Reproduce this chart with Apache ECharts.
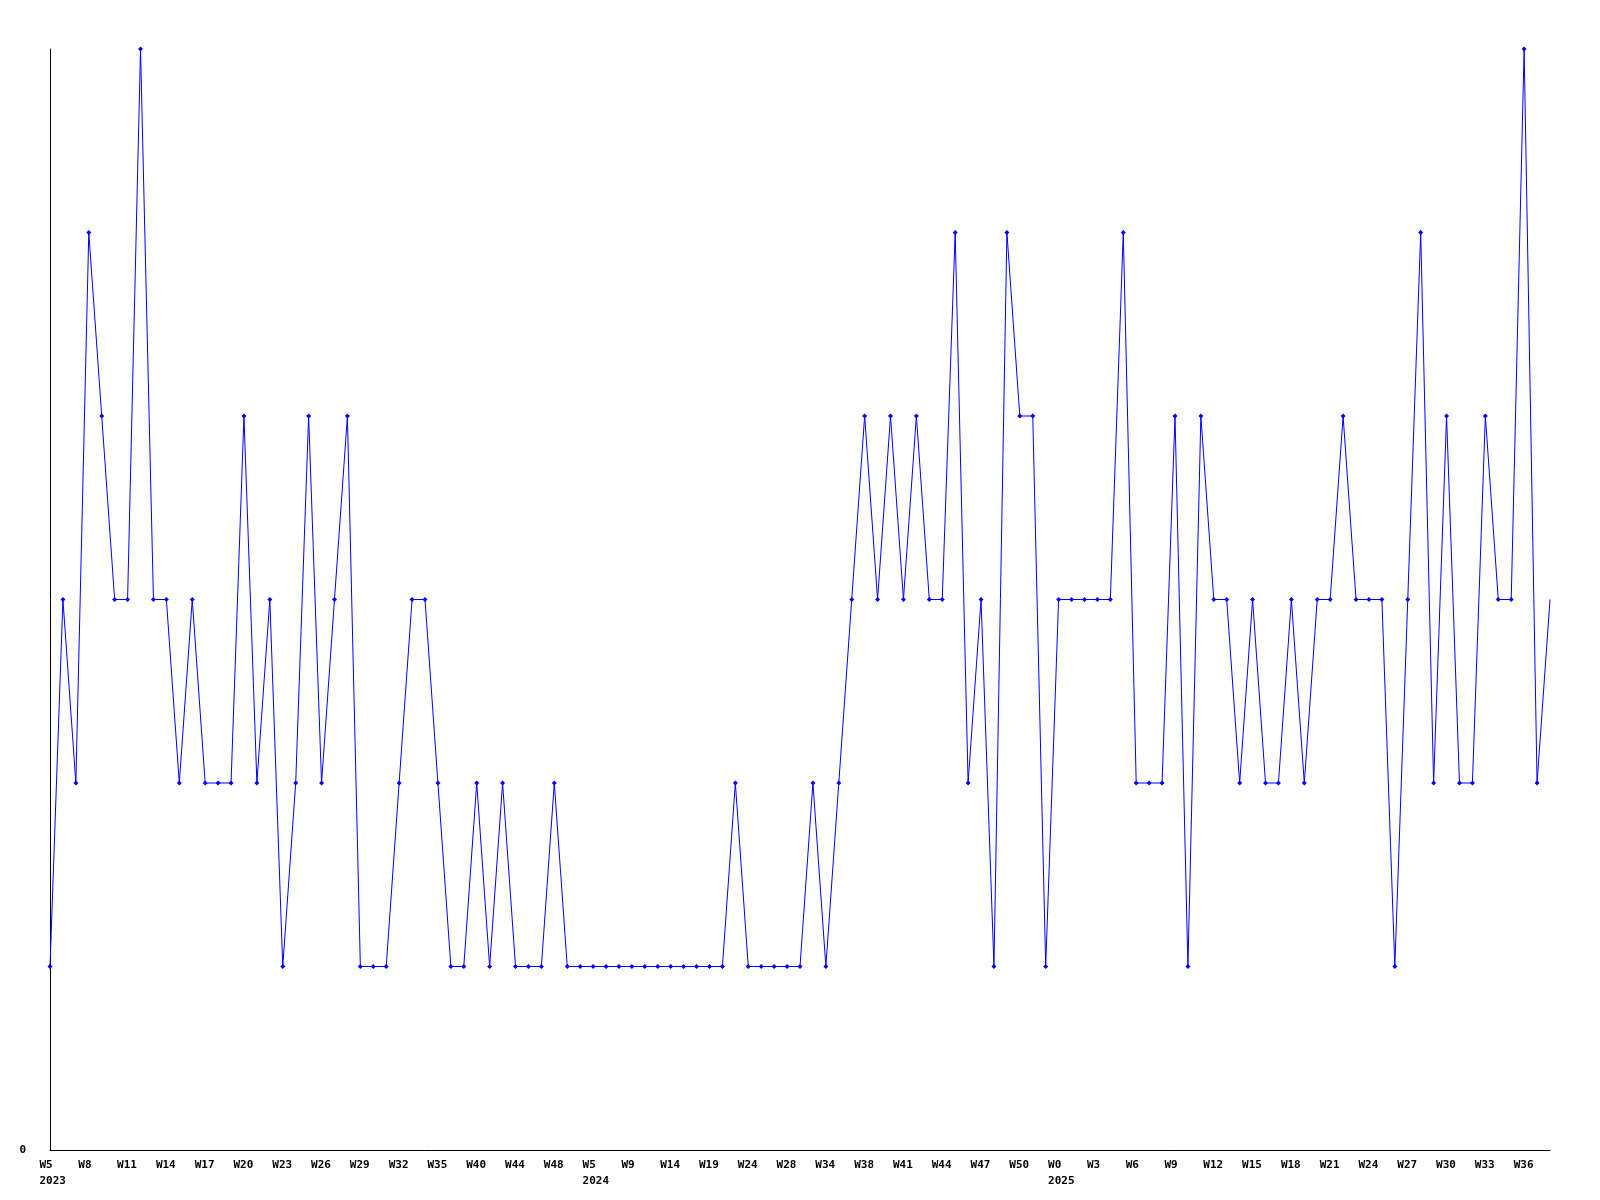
<!DOCTYPE html>
<html>
<head>
<meta charset="utf-8">
<script src="https://cdn.jsdelivr.net/npm/echarts@6/dist/echarts.min.js"></script>
<style>html,body{margin:0;padding:0;background:#fff;}#c{width:1600px;height:1200px;}</style>
</head>
<body>
<div id="c"></div>
<script>
const weeks = [
 'W5','W6','W7','W8','W9','W10','W11','W12','W13','W14','W15','W16','W17','W18','W19','W20','W21','W22','W23','W24','W25','W26','W27','W28','W29','W30','W31','W32','W33','W34','W35','W37','W38','W40','W41','W42','W44','W45','W46','W48','W50','W52',
 'W5','W6','W8','W9','W11','W12','W14','W15','W17','W19','W20','W22','W24','W25','W26','W28','W30','W32','W34','W35','W36','W38','W39','W40','W41','W42','W43','W44','W45','W46','W47','W48','W49','W50','W51','W52',
 'W0','W1','W2','W3','W4','W5','W6','W7','W8','W9','W10','W11','W12','W13','W14','W15','W16','W17','W18','W19','W20','W21','W22','W23','W24','W25','W26','W27','W28','W29','W30','W31','W32','W33','W34','W35','W36','W37','W38'
];
const yearStartIndex = [0, 42, 78];
const yearLabels = ['2023', '2024', '2025'];
const values = [
 1,3,2,5,4,3,3,6,3,3,2,3,2,2,2,4,2,3,1,2,4,2,3,4,1,1,1,2,3,3,
 2,1,1,2,1,2,1,1,1,2,1,1,1,1,1,1,1,1,1,1,1,1,1,2,1,1,1,1,1,2,
 1,2,3,4,3,4,3,4,3,3,5,2,3,1,5,4,4,1,3,3,3,3,3,5,2,2,2,4,1,4,
 3,3,2,3,2,2,3,2,3,3,4,3,3,3,1,3,5,2,4,2,2,4,3,3,6,2,3
];
const yLabels = ['0'];

const chart = echarts.init(document.getElementById('c'));
const seriesData = values.map((v, i) => i === values.length - 1 ? {value: v, symbol: 'none'} : v);
const labelFont = {fontFamily: 'DejaVu Sans Mono', fontWeight: 'bold', fontSize: 11, color: '#000'};
chart.setOption({
  animation: false,
  backgroundColor: '#ffffff',
  grid: {left: 50, right: 50, top: 49, bottom: 50, containLabel: false},
  xAxis: {
    type: 'category',
    data: weeks,
    boundaryGap: false,
    axisLine: {show: true, lineStyle: {color: '#000', width: 1}},
    axisTick: {show: false},
    splitLine: {show: false},
    axisLabel: Object.assign({
      interval: 2,
      margin: 7,
      align: 'center',
      lineHeight: 16,
      rich: {
        t: Object.assign({width: 21, align: 'left', lineHeight: 16}, labelFont)
      },
      formatter: function (v, idx) {
        const k = yearStartIndex.indexOf(idx);
        return k >= 0 ? '{t|' + v + '}\n{t|' + yearLabels[k] + '}' : '{t|' + v + '}';
      }
    }, labelFont)
  },
  yAxis: {
    type: 'value',
    min: 0,
    max: 6,
    interval: 1,
    axisLine: {show: true, lineStyle: {color: '#000', width: 1}},
    axisTick: {show: false},
    splitLine: {show: false},
    axisLabel: Object.assign({
      margin: 24,
      formatter: function (v) { return v === 0 ? yLabels[0] : ''; }
    }, labelFont)
  },
  series: [{
    type: 'line',
    data: seriesData,
    symbol: 'diamond',
    symbolSize: 5,
    showAllSymbol: true,
    lineStyle: {color: '#0000ff', width: 1},
    itemStyle: {color: '#0000ff'}
  }]
});
</script>
</body>
</html>
